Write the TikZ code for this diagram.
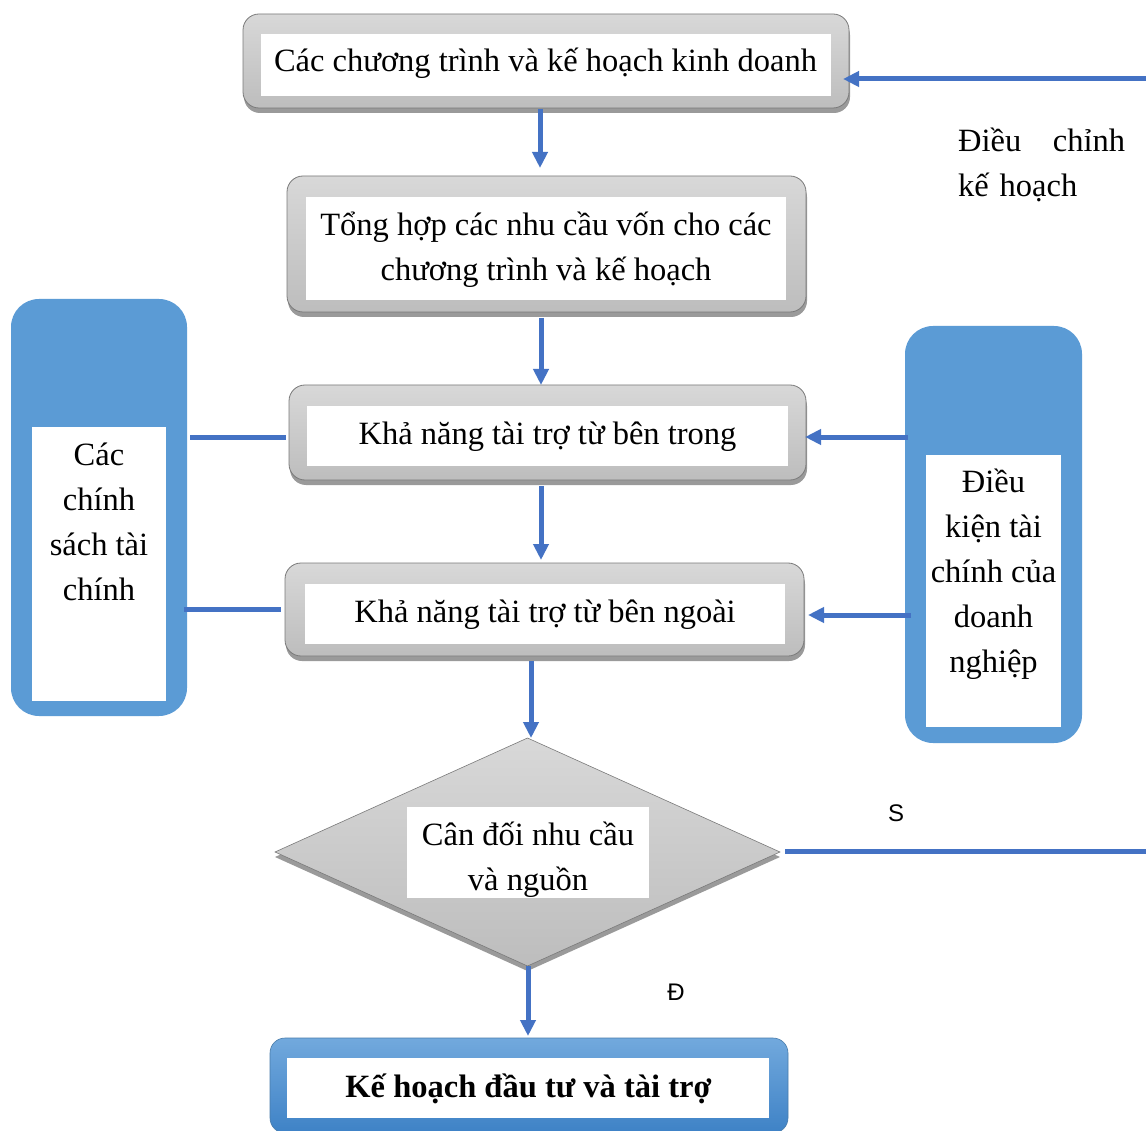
\documentclass[tikz,border=0pt]{standalone}
\usepackage{fontspec}
\setmainfont{Liberation Serif}
\newfontfamily\labelsans{Liberation Sans}
\usetikzlibrary{arrows.meta,shapes.geometric,shadows,calc}
\definecolor{arrowblue}{HTML}{4472C4}
\definecolor{sideblue}{HTML}{5B9BD5}
\definecolor{graytop}{HTML}{D8D8D8}
\definecolor{graybot}{HTML}{BDBDBD}
\definecolor{grayline}{HTML}{7A7A7A}
\definecolor{shadowgray}{HTML}{9A9A9A}
\definecolor{finaltop}{HTML}{72A9DD}
\definecolor{finalbot}{HTML}{3E82C6}
\begin{document}
\begin{tikzpicture}[x=1pt,y=-1pt,
  graybox/.style={rounded corners=16pt, top color=graytop, bottom color=graybot, draw=grayline, line width=0.8pt,
    drop shadow={shadow xshift=1pt, shadow yshift=-5pt, fill=shadowgray, opacity=1}, inner sep=0, outer sep=0},
  whitebox/.style={fill=white, inner sep=0, outer sep=0},
  sidebox/.style={fill=sideblue, rounded corners=28pt, inner sep=0, outer sep=0},
  finalbox/.style={rounded corners=15pt, top color=finaltop, bottom color=finalbot, draw=sideblue!80!black, line width=0.6pt, inner sep=0, outer sep=0},
  txt/.style={font=\fontsize{32.5}{45}\selectfont, inner sep=0, align=center, anchor=base},
  smalllabel/.style={font=\labelsans\fontsize{24}{28}\selectfont, inner sep=0},
  conn/.style={draw=arrowblue, line width=5pt},
  arr/.style={conn, -{Triangle[length=16pt,width=15pt]}},
]
\fill[white] (0,0) rectangle (1146,1131);
\useasboundingbox (0,0) rectangle (1146,1131);

% side boxes
\node[sidebox, minimum width=176pt, minimum height=417pt] (L) at (99,507.5) {};
\node[whitebox, minimum width=134pt, minimum height=274pt] (Lw) at (99,564) {};
\node[txt] (Lt) at (99,600) {Các\\chính\\sách tài\\chính};

\node[sidebox, minimum width=177pt, minimum height=417pt] (R) at (993.5,534.5) {};
\node[whitebox, minimum width=135pt, minimum height=272pt] (Rw) at (993.5,591) {};
\node[txt] (Rt) at (993.5,672) {Điều\\kiện tài\\chính của\\doanh\\nghiệp};

% gray boxes
\node[graybox, minimum width=606pt, minimum height=94pt] (b1) at (546,61) {};
\node[whitebox, minimum width=570pt, minimum height=62pt] (b1w) at (546,65) {};
\node[txt] (b1t) at (545.5,72) {Các chương trình và kế hoạch kinh doanh};

\node[graybox, minimum width=519pt, minimum height=136pt] (b2) at (546.5,244) {};
\node[whitebox, minimum width=480pt, minimum height=103pt] (b2w) at (546,248.5) {};
\node[txt] (b2t) at (546,281) {Tổng hợp các nhu cầu vốn cho các\\chương trình và kế hoạch};

\node[graybox, minimum width=517pt, minimum height=95pt] (b3) at (547.5,432.5) {};
\node[whitebox, minimum width=481pt, minimum height=60pt] (b3w) at (547.5,436) {};
\node[txt] (b3t) at (547.5,445) {Khả năng tài trợ từ bên trong};

\node[graybox, minimum width=519pt, minimum height=93pt] (b4) at (544.5,609.5) {};
\node[whitebox, minimum width=480pt, minimum height=60pt] (b4w) at (545,614) {};
\node[txt] (b4t) at (545,622) {Khả năng tài trợ từ bên ngoài};

% decision
\node[diamond, top color=graytop, bottom color=graybot, draw=grayline, line width=0.6pt,
  drop shadow={shadow xshift=0pt, shadow yshift=-5pt, fill=shadowgray, opacity=1},
  minimum width=505pt, minimum height=228pt, inner sep=0, outer sep=0] (dia) at (527.5,852) {};
\node[whitebox, minimum width=242pt, minimum height=91pt] (diaw) at (528,852.5) {};
\node[txt] (diat) at (528,890) {Cân đối nhu cầu\\và nguồn};

% final
\node[finalbox, minimum width=518pt, minimum height=95pt] (fin) at (529,1085.5) {};
\node[whitebox, minimum width=482pt, minimum height=60pt] (finw) at (528,1088) {};
\node[txt, font=\fontsize{32.5}{45}\selectfont\bfseries] (fint) at (528.5,1097) {Kế hoạch đầu tư và tài trợ};

% labels
\node[txt, anchor=base west, align=left, text width=167pt] (adj) at (958,152) {Điều\hfill chỉnh\\kế hoạch};
\node[smalllabel] (S) at (896,813) {S};
\node[smalllabel] (D) at (676,992) {Đ};

\coordinate (tr) at (1146,79);
\coordinate (sr) at (1146,851);

% connectors
\draw[arr] ($(b1.south)+(-6,1)$) -- ($(b2.north)+(-6.5,-8)$);
\draw[arr] ($(b2.south)+(-5.5,6)$) -- ($(b3.north)+(-6.5,0)$);
\draw[arr] ($(b3.south)+(-6.5,6)$) -- ($(b4.north)+(-3.5,-3)$);
\draw[arr] ($(b4.south)+(-13.5,5)$) -- ($(dia.north)+(3.5,0)$);
\draw[arr] ($(dia.south)+(0.5,0)$) -- ($(fin.north)+(-1,-2)$);
\draw[arr] (tr) -- ($(b1.east)+(-6,18)$);
\draw[conn] ($(dia.east)+(5,-1)$) -- (sr);
\draw[arr] ($(R.west)+(3,-97.5)$) -- ($(b3.east)+(-1,4.5)$);
\draw[arr] ($(R.west)+(6,80.5)$) -- ($(b4.east)+(4,5.5)$);
\draw[conn] ($(L.east)+(3,-70.5)$) -- ($(b3.west)+(-3,4.5)$);
\draw[conn] ($(L.east)+(-3,101.5)$) -- ($(b4.west)+(-4,-0.5)$);
\end{tikzpicture}
\end{document}
